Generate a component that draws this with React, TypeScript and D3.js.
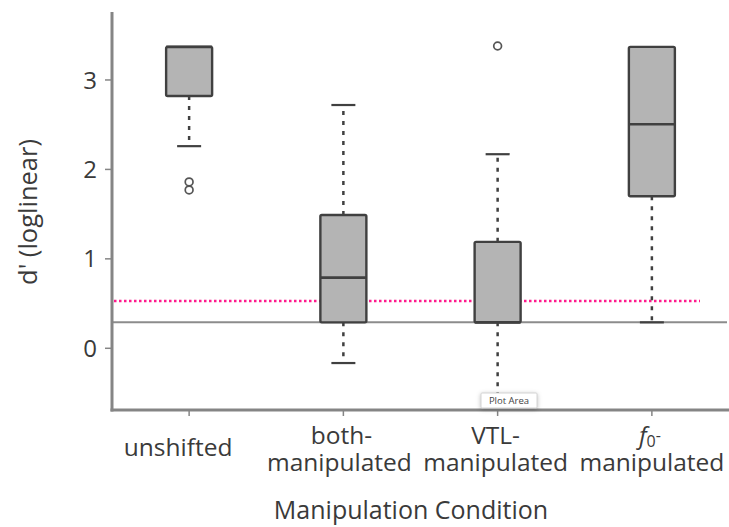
import React from "react";
import * as d3 from "d3";

// Conditions and per-condition box-plot statistics (d' values)
const categories = ["unshifted", "both-manipulated", "VTL-manipulated", "f0-manipulated"];
const whiskerLow = [2.26, -0.165, -0.55, 0.29];
const q1 = [2.82, 0.29, 0.29, 1.7];
const medians = [3.37, 0.79, 0.29, 2.505];
const q3 = [3.37, 1.49, 1.19, 3.37];
const whiskerHigh = [3.37, 2.72, 2.17, 3.37];

// Outliers: category index and value
const outlierCategory = [0, 0, 2];
const outlierValues = [1.86, 1.77, 3.38];

// Reference lines
const baselineValue = 0.29;
const thresholdValue = 0.53;

const yTicks = [0, 1, 2, 3];

const W = 729;
const H = 527;
const left = 112;
const right = 729;
const top = 12;
const bottom = 410;

const FONT = "Open Sans, Lato, sans-serif";
const TEXT = "#3a3a3a";
const BOX_STROKE = "#404040";

export default function App() {
  const y = d3.scaleLinear().domain([-0.69, 3.76]).range([bottom, top]);
  const x = d3.scaleBand<string>().domain(categories).range([left, right]).padding(0);
  const cx = (c: string) => (x(c) as number) + x.bandwidth() / 2;
  const boxW = 46;
  const capW = 24;

  const labelSize = 24.5;

  return (
    <svg
      width={W}
      height={H}
      style={{ position: "absolute", left: 0, top: 0, background: "#fff" }}
    >
      {/* Reference lines */}
      <line x1={left} x2={right - 2} y1={y(baselineValue)} y2={y(baselineValue)} stroke="#8c8c8c" strokeWidth={2} />
      <line
        x1={left + 2}
        x2={700}
        y1={y(thresholdValue)}
        y2={y(thresholdValue)}
        stroke="#ff1a8c"
        strokeWidth={2.5}
        strokeDasharray="2.5 2.5"
      />

      {/* Boxes */}
      {categories.map((c, i) => {
        const xc = cx(c);
        return (
          <g key={c}>
            {whiskerHigh[i] > q3[i] && (
              <>
                <line x1={xc} x2={xc} y1={y(q3[i])} y2={y(whiskerHigh[i])} stroke={BOX_STROKE} strokeWidth={2.5} strokeDasharray="4 6" />
                <line x1={xc - capW / 2} x2={xc + capW / 2} y1={y(whiskerHigh[i])} y2={y(whiskerHigh[i])} stroke={BOX_STROKE} strokeWidth={2.2} />
              </>
            )}
            {whiskerLow[i] < q1[i] && (
              <>
                <line x1={xc} x2={xc} y1={y(q1[i])} y2={y(whiskerLow[i])} stroke={BOX_STROKE} strokeWidth={2.5} strokeDasharray="4 6" />
                <line x1={xc - capW / 2} x2={xc + capW / 2} y1={y(whiskerLow[i])} y2={y(whiskerLow[i])} stroke={BOX_STROKE} strokeWidth={2.2} />
              </>
            )}
            <rect
              x={xc - boxW / 2}
              y={y(q3[i])}
              width={boxW}
              height={y(q1[i]) - y(q3[i])}
              fill="#b4b4b4"
              stroke={BOX_STROKE}
              strokeWidth={2.4}
              rx={1.5}
            />
            <line x1={xc - boxW / 2} x2={xc + boxW / 2} y1={y(medians[i])} y2={y(medians[i])} stroke={BOX_STROKE} strokeWidth={2.6} />
          </g>
        );
      })}

      {/* Outliers */}
      {outlierValues.map((v, i) => (
        <circle
          key={i}
          cx={cx(categories[outlierCategory[i]])}
          cy={y(v)}
          r={3.9}
          fill="none"
          stroke="#555"
          strokeWidth={1.7}
        />
      ))}

      {/* Axes */}
      <line x1={left} x2={left} y1={top} y2={bottom + 1.5} stroke="#858585" strokeWidth={3} />
      <line x1={left - 1.5} x2={right} y1={bottom} y2={bottom} stroke="#858585" strokeWidth={3} />
      {yTicks.map((t) => (
        <g key={t}>
          <line x1={left - 7} x2={left} y1={y(t)} y2={y(t)} stroke="#858585" strokeWidth={1.5} />
          <text
            x={97}
            y={y(t)}
            dy="0.36em"
            textAnchor="end"
            fontFamily={FONT}
            fontSize={24}
            fill={TEXT}
          >
            {t}
          </text>
        </g>
      ))}
      {categories.map((c) => (
        <line key={c} x1={cx(c)} x2={cx(c)} y1={bottom} y2={bottom + 6} stroke="#858585" strokeWidth={1.5} />
      ))}

      {/* Category labels (two-line labels as one text element each) */}
      <g fontFamily={FONT} fontSize={labelSize} fill={TEXT} textAnchor="middle">
        <text x={cx(categories[0]) - 11} y={456}>unshifted</text>
        <text y={444}>
          <tspan x={cx(categories[1]) - 2}>both-</tspan>
          <tspan x={cx(categories[1]) - 4} dy={27}>manipulated</tspan>
        </text>
        <text y={444}>
          <tspan x={cx(categories[2]) - 2}>VTL-</tspan>
          <tspan x={cx(categories[2]) - 2} dy={27}>manipulated</tspan>
        </text>
        <text y={444}>
          <tspan x={cx(categories[3]) - 2} fontStyle="italic">f</tspan>
          <tspan fontSize={16} dy={3}>0</tspan>
          <tspan fontSize={16} dy={-6}>-</tspan>
          <tspan x={cx(categories[3])} dy={30}>manipulated</tspan>
        </text>
      </g>

      {/* Axis titles */}
      <text
        x={411}
        y={519}
        textAnchor="middle"
        fontFamily={FONT}
        fontSize={25}
        fill={TEXT}
      >
        Manipulation Condition
      </text>
      <text
        transform={`translate(37, ${212}) rotate(-90)`}
        textAnchor="middle"
        fontFamily={FONT}
        fontSize={25.5}
        fill={TEXT}
      >
        d' (loglinear)
      </text>

      {/* Hover tag */}
      <g>
        <rect x={481} y={393} width={56} height={15} fill="#fff" stroke="#d4d4d4" strokeWidth={1} rx={1}
          style={{ filter: "drop-shadow(0px 1px 2px rgba(0,0,0,0.25))" }} />
        <text x={509} y={404} textAnchor="middle" fontFamily={FONT} fontSize={9.5} fill="#444">Plot Area</text>
      </g>
    </svg>
  );
}
